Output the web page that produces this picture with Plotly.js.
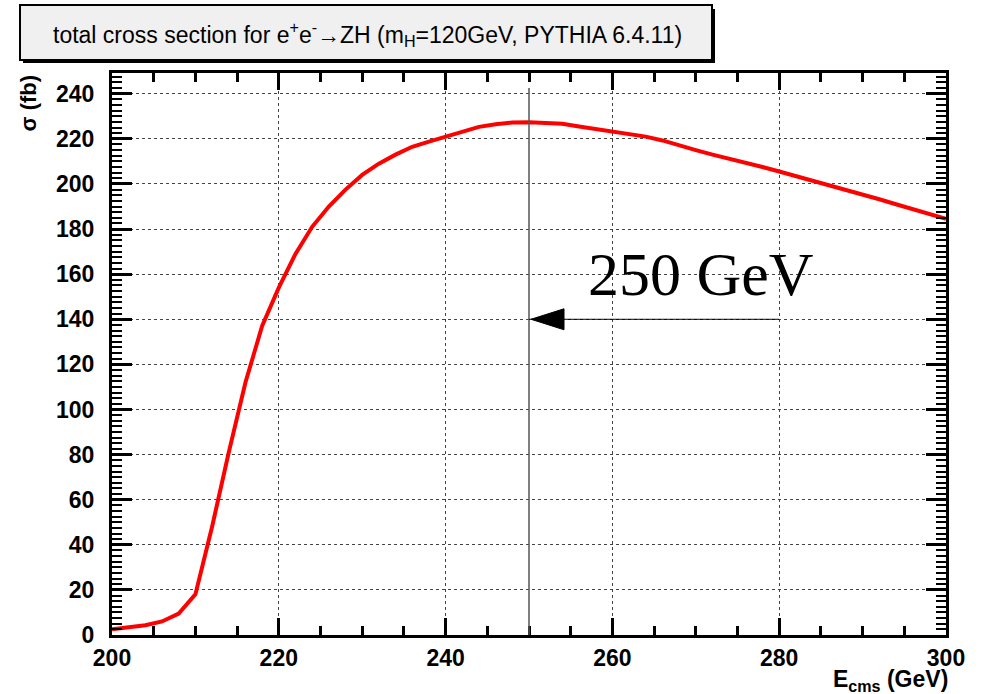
<!DOCTYPE html>
<html>
<head>
<meta charset="utf-8">
<script src="https://cdn.plot.ly/plotly-3.0.1.min.js"></script>
<style>html,body{margin:0;padding:0;background:#fff;}#chart{width:981px;height:694px;}</style>
</head>
<body>
<div id="chart"></div>
<script>
// Data
var energies = [200,202,204,206,208,210,212,214,216,218,220,222,224,226,228,230,232,234,236,238,240,242,244,246,248,250,252,254,256,258,260,262,264,266,268,270,272,274,276,278,280,282,284,286,288,290,292,294,296,298,300];
var sigma = [2.5,3.2,4.3,6,9.5,18,48,81,112,137,154,169,181,190,197.5,204,209,213,216.5,218.8,221,223.3,225.3,226.5,227.2,227.4,227.2,226.7,225.5,224.3,223.3,222.3,221,219.3,217,215,213,211.3,209.5,207.5,205.5,203.5,201.5,199.5,197.5,195.3,193.2,191,188.8,186.7,184.5];
var xTicks = [200,220,240,260,280,300];
var yTicks = [0,20,40,60,80,100,120,140,160,180,200,220,240];
var markerEnergy = 250;      // vertical line position
var markerTop = 242.6;       // vertical line top
var arrowTail = 280;         // arrow start energy
var arrowLevel = 140;        // arrow height
var labelText = "250 GeV";
var labelPos = [270.6, 160];
var titleText = "total cross section for e<sup>+</sup>e<sup>-</sup>\u2192ZH (m<sub>H</sub>=120GeV, PYTHIA 6.4.11)";

// pixel -> paper helpers (layout positions only)
var L = 112, R = 946, T = 73, B = 635;
function px(x){ return (x - L) / (R - L); }
function py(y){ return (B - y) / (B - T); }

var tickFont = {family: "Liberation Sans, Arial, sans-serif", size: 23, color: "#000", weight: 700};

var trace = {
  x: energies, y: sigma, type: "scatter", mode: "lines",
  line: {color: "#ff0000", width: 4}, hoverinfo: "none", showlegend: false
};

var axisCommon = {
  showline: true, linecolor: "#000", linewidth: 3, mirror: "ticks",
  ticks: "inside", tickcolor: "#000", tickwidth: 3,
  showgrid: true, gridcolor: "#444", gridwidth: 1, griddash: "dot",
  zeroline: false, tickfont: tickFont, fixedrange: true
};

var layout = {
  width: 981, height: 694,
  margin: {l: L, r: 981 - R, t: T, b: 694 - B, pad: 0},
  paper_bgcolor: "#fff", plot_bgcolor: "#fff",
  showlegend: false,
  xaxis: Object.assign({}, axisCommon, {
    range: [200, 300], tickmode: "array", tickvals: xTicks, ticktext: xTicks.map(String),
    ticklen: 17, ticklabelstandoff: 0,
    minor: {dtick: 5, tick0: 200, ticks: "inside", ticklen: 9, tickwidth: 3, tickcolor: "#000", showgrid: false}
  }),
  yaxis: Object.assign({}, axisCommon, {
    range: [0, 249.2], tickmode: "array", tickvals: yTicks, ticktext: yTicks.map(String),
    ticklen: 20, ticklabelstandoff: 10,
    minor: {dtick: 2.5, tick0: 0, ticks: "inside", ticklen: 10, tickwidth: 2, tickcolor: "#000", showgrid: false}
  }),
  shapes: [
    // title box shadow and box
    {type: "rect", xref: "paper", yref: "paper", x0: px(23), x1: px(715), y0: py(63), y1: py(9),
     fillcolor: "#000", line: {width: 0}, layer: "above"},
    {type: "rect", xref: "paper", yref: "paper", x0: px(20), x1: px(712), y0: py(60), y1: py(5),
     fillcolor: "#f0f0f0", line: {color: "#000", width: 2}, layer: "above"},
    // vertical marker line
    {type: "line", xref: "x", yref: "y", x0: markerEnergy, x1: markerEnergy, y0: 0, y1: markerTop,
     line: {color: "#555", width: 1.5}},
    // arrow shaft
    {type: "line", xref: "x", yref: "y", x0: markerEnergy, x1: arrowTail, y0: arrowLevel, y1: arrowLevel,
     line: {color: "#000", width: 1}},
    // arrow head (pixel-sized triangle anchored at the arrow tip)
    {type: "path", xref: "x", yref: "y", xsizemode: "pixel", ysizemode: "pixel",
     xanchor: markerEnergy, yanchor: arrowLevel, path: "M2,0L35,10.5L35,-10.5Z",
     fillcolor: "#000", line: {color: "#000", width: 1}}
  ],
  annotations: [
    {xref: "paper", yref: "paper", x: px(367), y: py(34), xanchor: "center", yanchor: "middle",
     text: titleText, showarrow: false,
     font: {family: "Liberation Sans, Arial, sans-serif", size: 23, color: "#000"}},
    {xref: "x", yref: "y", x: labelPos[0], y: labelPos[1], xanchor: "center", yanchor: "middle",
     text: labelText, showarrow: false,
     font: {family: "Liberation Serif, Times New Roman, serif", size: 62, color: "#000"}},
    {xref: "paper", yref: "paper", x: px(950), y: py(697), xanchor: "right", yanchor: "bottom",
     text: "E<sub>cms</sub> (GeV)", showarrow: false,
     font: {family: "Liberation Sans, Arial, sans-serif", size: 23, color: "#000", weight: 700}},
    {xref: "paper", yref: "paper", x: px(28), y: py(73), xanchor: "center", yanchor: "top",
     text: "\u03c3 (fb)", showarrow: false, textangle: -90,
     font: {family: "Liberation Sans, Arial, sans-serif", size: 22, color: "#000", weight: 700}}
  ]
};

Plotly.newPlot("chart", [trace], layout, {displayModeBar: false, staticPlot: true});
</script>
</body>
</html>
